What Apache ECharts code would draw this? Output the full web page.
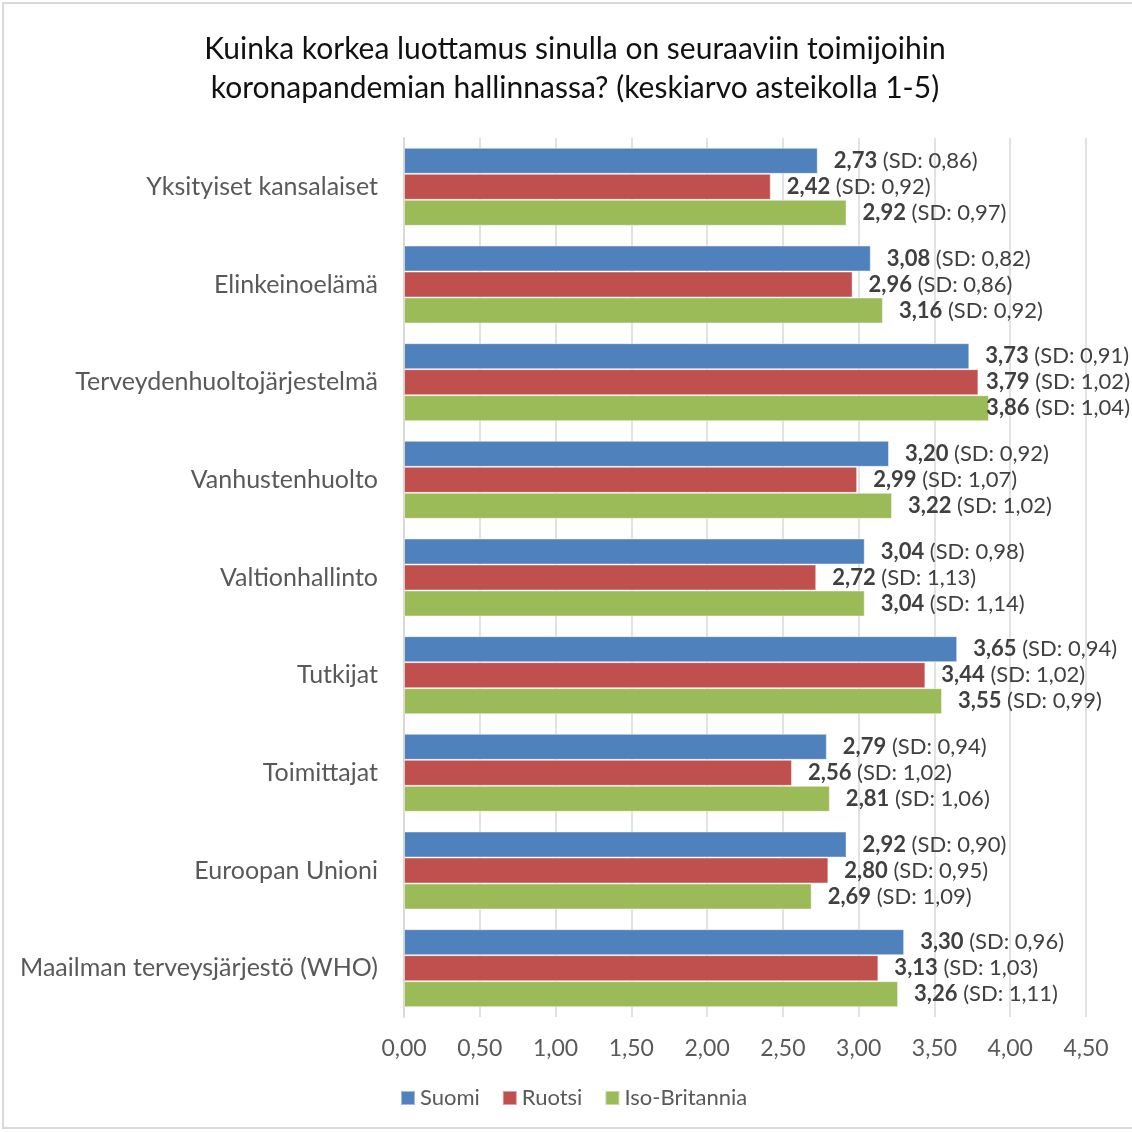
<!DOCTYPE html>
<html><head><meta charset="utf-8">
<script src="https://cdn.jsdelivr.net/npm/echarts@6/dist/echarts.min.js"></script>
<style>html,body{margin:0;padding:0;background:#fff}#c{width:1132px;height:1132px}</style>
</head><body><div id="c"></div>
<script>
const categories = ["Yksityiset kansalaiset","Elinkeinoelämä","Terveydenhuoltojärjestelmä","Vanhustenhuolto","Valtionhallinto","Tutkijat","Toimittajat","Euroopan Unioni","Maailman terveysjärjestö (WHO)"];
const seriesNames = ["Suomi","Ruotsi","Iso-Britannia"];
const suomi = [2.73,3.08,3.73,3.20,3.04,3.65,2.79,2.92,3.30];
const suomiSD = [0.86,0.82,0.91,0.92,0.98,0.94,0.94,0.90,0.96];
const ruotsi = [2.42,2.96,3.79,2.99,2.72,3.44,2.56,2.80,3.13];
const ruotsiSD = [0.92,0.86,1.02,1.07,1.13,1.02,1.02,0.95,1.03];
const iso = [2.92,3.16,3.86,3.22,3.04,3.55,2.81,2.69,3.26];
const isoSD = [0.97,0.92,1.04,1.02,1.14,0.99,1.06,1.09,1.11];
const colors = ["#4F81BD","#C0504D","#9BBB59"];
const FONT = "Lato,'Open Sans',sans-serif";
const fmt = v => v.toFixed(2).replace('.', ',');
function mk(name, vals, sds, color){
  return {
    name, type:'bar', data: vals, barWidth: 26, barGap:'0%',
    itemStyle:{color, borderColor:'rgba(255,255,255,0.45)', borderWidth:1},
    label:{show:true, position:'right', distance:16,
      formatter: p => '{b|' + fmt(p.value) + '} (SD: ' + fmt(sds[p.dataIndex]) + ')',
      color:'#404040', fontSize:22, fontFamily:FONT,
      rich:{b:{fontWeight:'bold', fontSize:22, color:'#404040', fontFamily:FONT}}
    },
    labelLayout: p => {
      const r = p.labelRect;
      if (r.x + r.width > 1130) return {x: 1130 - r.width, y: r.y + r.height / 2, align:'left', verticalAlign:'middle'};
      return {};
    }
  };
}
const chart = echarts.init(document.getElementById('c'), null, {renderer:'canvas'});
chart.setOption({
  backgroundColor:'#fff',
  animation:false,
  title:{text:'Kuinka korkea luottamus sinulla on seuraaviin toimijoihin\nkoronapandemian hallinnassa? (keskiarvo asteikolla 1-5)',
    left:570, top:25, textAlign:'center',
    textStyle:{fontFamily:FONT, fontSize:30, fontWeight:'normal', color:'#111', lineHeight:39}},
  legend:{data:seriesNames, bottom:18, left:395, itemWidth:14, itemHeight:14, itemGap:22, icon:'rect',
    textStyle:{fontFamily:FONT, fontSize:22, color:'#595959'}},
  grid:{left:404, right:46, top:138, bottom:115, containLabel:false},
  xAxis:{type:'value', min:0, max:4.5, interval:0.5,
    axisLine:{show:false}, axisTick:{show:false},
    splitLine:{lineStyle:{color:'#D9D9D9', width:1.5}},
    axisLabel:{formatter: v => fmt(v), fontFamily:FONT, fontSize:23, color:'#595959', margin:20}},
  yAxis:{type:'category', data:categories, inverse:true,
    axisLine:{show:true, lineStyle:{color:'#D9D9D9', width:2}}, axisTick:{show:false},
    axisLabel:{fontFamily:FONT, fontSize:25, color:'#595959', margin:26}},
  series:[mk(seriesNames[0], suomi, suomiSD, colors[0]), mk(seriesNames[1], ruotsi, ruotsiSD, colors[1]), mk(seriesNames[2], iso, isoSD, colors[2])],
  graphic:[{type:'rect', shape:{x:3, y:3, width:1140, height:1125}, style:{fill:'none', stroke:'#D9D9D9', lineWidth:2}, silent:true}]
});
</script></body></html>
